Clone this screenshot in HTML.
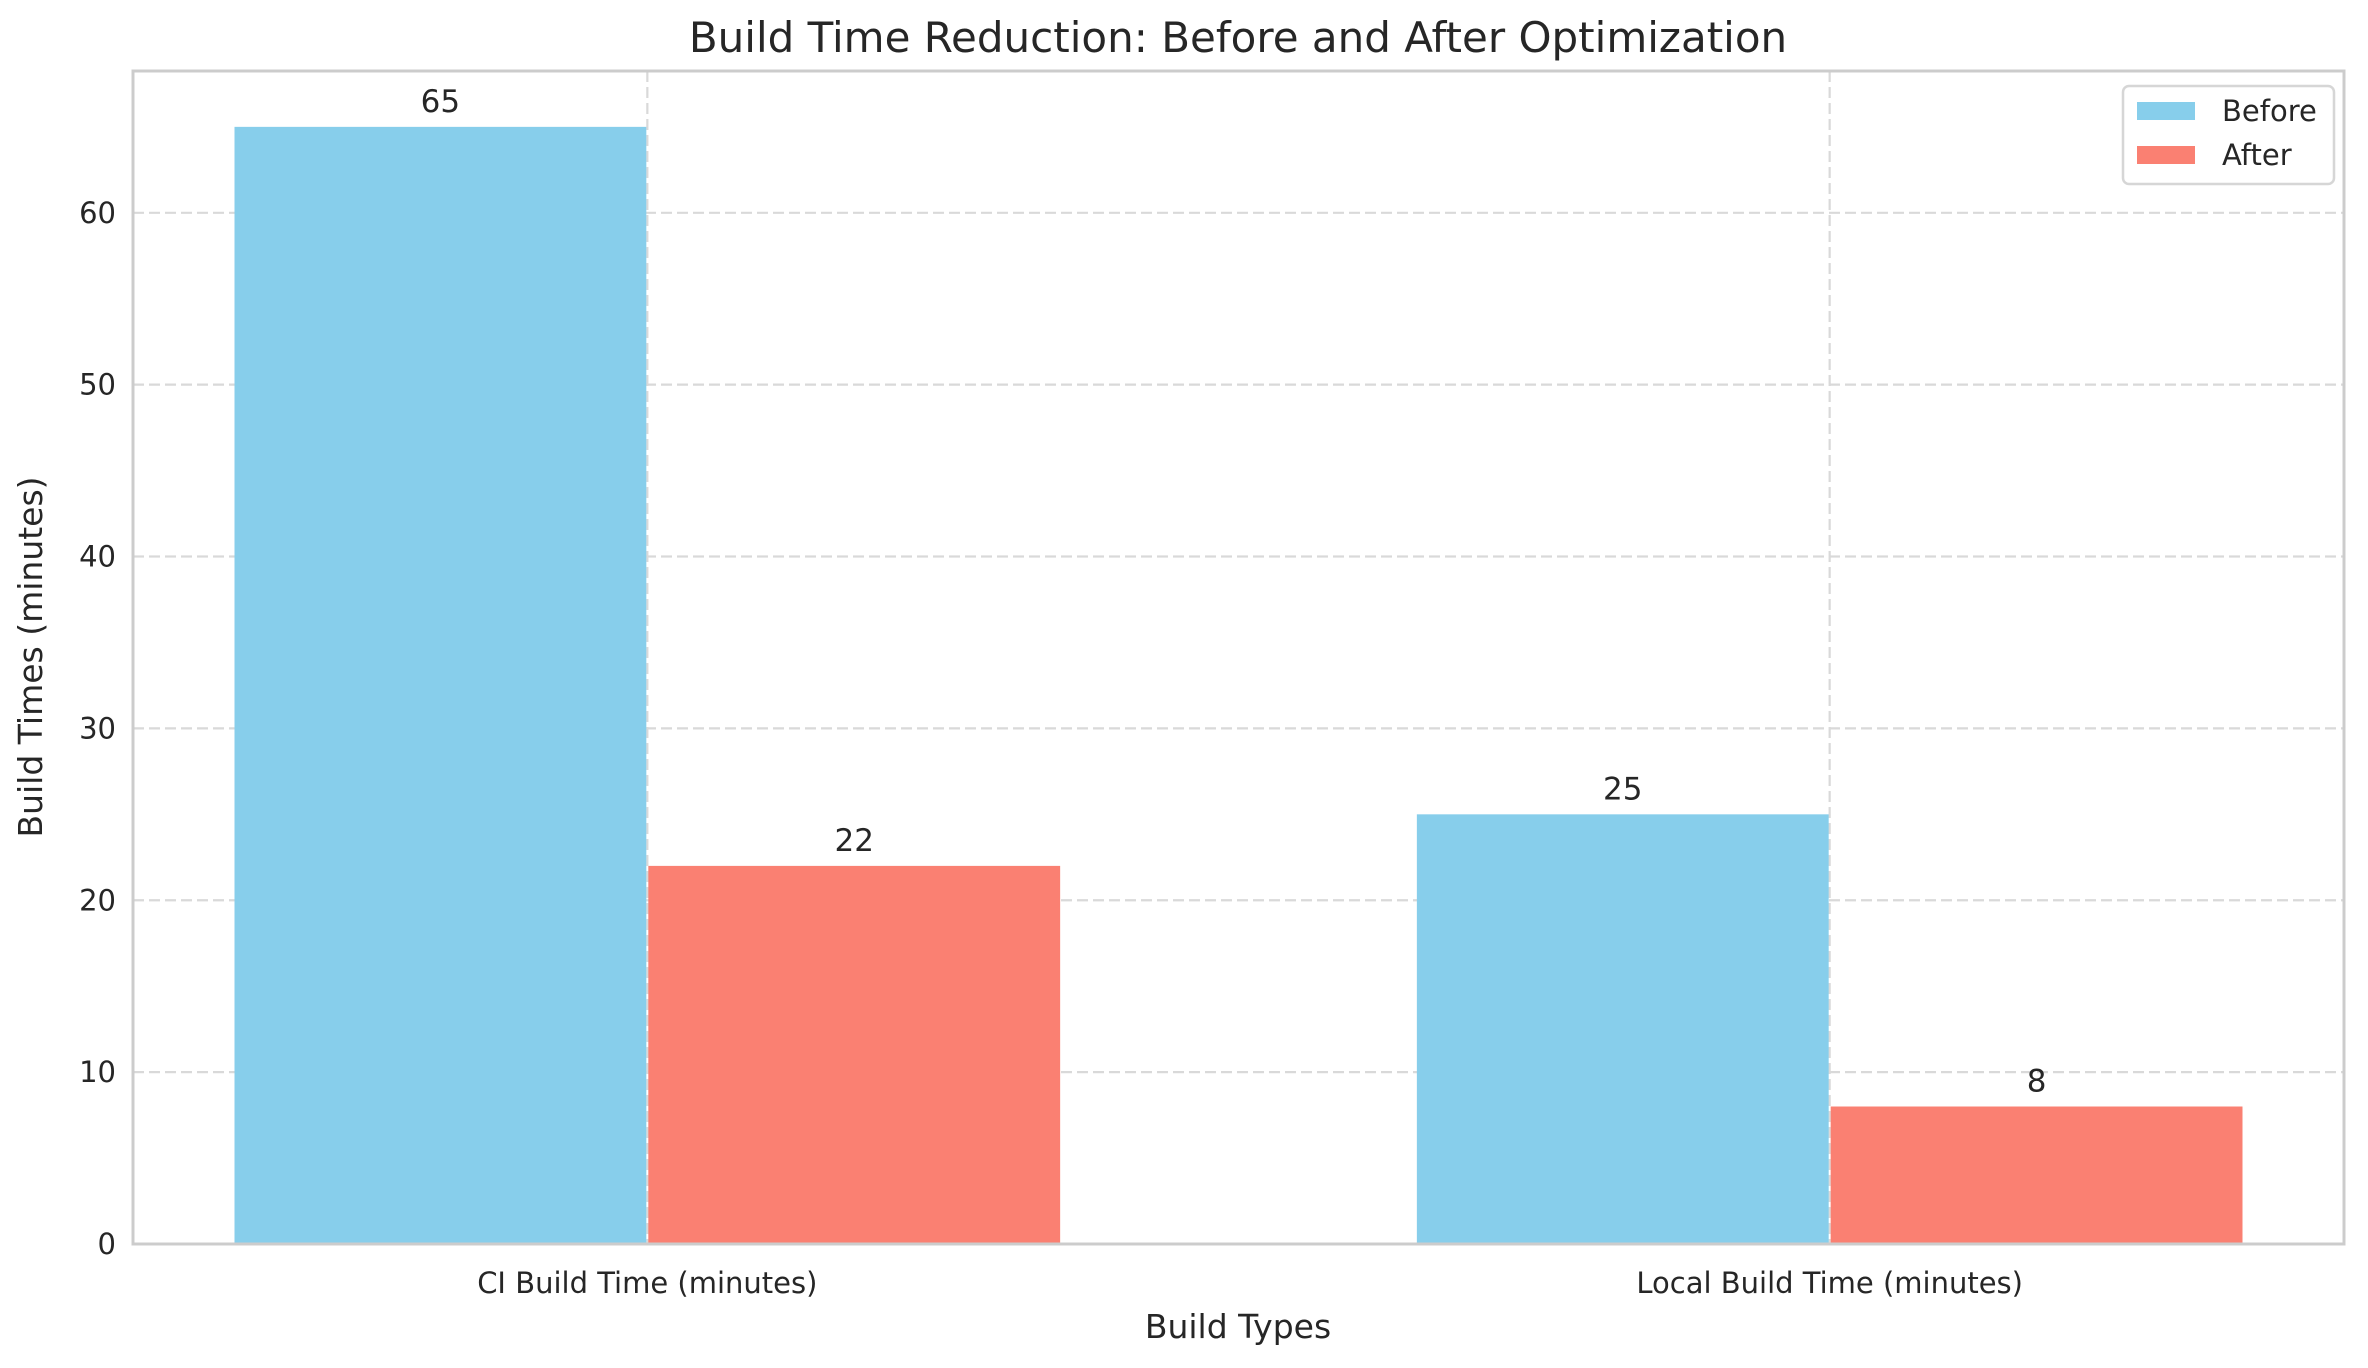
<!DOCTYPE html>
<html><head><meta charset="utf-8"><style>
html,body{margin:0;padding:0;background:#fff;}
svg{display:block;font-family:"DejaVu Sans","Liberation Sans",sans-serif;}
</style></head><body>
<svg id="chart" width="2368" height="1368" viewBox="0 0 2368 1368" xmlns="http://www.w3.org/2000/svg">
<rect x="0" y="0" width="2368" height="1368" fill="#fff"/>
<text x="1238" y="52" font-size="42" fill="#262626" text-anchor="middle">Build Time Reduction: Before and After Optimization</text>
<g id="grid"></g>
<g id="bars"></g>
<g id="labels"></g>
<rect x="133" y="71" width="2211" height="1173" fill="none" stroke="#cccccc" stroke-width="3"/>
<g id="ticks"></g>
<text x="1238" y="1338" font-size="33" fill="#262626" text-anchor="middle">Build Types</text>
<text x="0" y="0" font-size="33" fill="#262626" text-anchor="middle" transform="translate(42,657) rotate(-90)">Build Times (minutes)</text>
<g>
<rect x="2123" y="86" width="211" height="98" rx="6" fill="#fff" fill-opacity="0.85" stroke="#d6d6d6" stroke-width="2.5"/>
<rect x="2137" y="102" width="58" height="18" fill="#87ceeb"/>
<text x="2222" y="121" font-size="29" fill="#262626">Before</text>
<rect x="2137" y="146" width="58" height="18" fill="#fa8072"/>
<text x="2222" y="165" font-size="29" fill="#262626">After</text>
</g>
</svg>
<script>
const categories = ["CI Build Time (minutes)", "Local Build Time (minutes)"];
const beforeValues = [65, 25];
const afterValues = [22, 8];
const yTicks = [0, 10, 20, 30, 40, 50, 60];

const NS = "http://www.w3.org/2000/svg";
const L = 133, R = 2344, T = 71, B = 1244;
const barW = 0.35;
const xMin = -0.5 + 0.5 - barW - 0.085, xMax = categories.length - 1 + barW + 0.085;
const yMax = Math.max(...beforeValues, ...afterValues) * 1.05;
const xs = v => L + (v - xMin) / (xMax - xMin) * (R - L);
const ys = v => B - v / yMax * (B - T);
function mk(tag, attrs, parent) {
  const e = document.createElementNS(NS, tag);
  for (const k in attrs) e.setAttribute(k, attrs[k]);
  parent.appendChild(e);
  return e;
}
const grid = document.getElementById("grid");
const bars = document.getElementById("bars");
const labels = document.getElementById("labels");
const ticks = document.getElementById("ticks");

yTicks.forEach(t => {
  const y = ys(t);
  if (t > 0) {
    const g = mk("line", {x1: L, x2: R, y1: y, y2: y, stroke: "#d9d9d9", "stroke-width": 2.2, "stroke-dasharray": "11,5"}, grid);
    
    
  }
  const tx = mk("text", {x: L - 17, y: y + 10, "font-size": 29, fill: "#262626", "text-anchor": "end"}, ticks);
  tx.textContent = t;
  
  
});

categories.forEach((c, i) => {
  const x = xs(i);
  const g = mk("line", {x1: x, x2: x, y1: T, y2: B, stroke: "#d9d9d9", "stroke-width": 2.2, "stroke-dasharray": "11,5"}, grid);
  
  

  const series = [[beforeValues[i], "#87ceeb", -barW, "before"], [afterValues[i], "#fa8072", 0, "after"]];
  series.forEach(([v, col, off, nm]) => {
    const x0 = xs(i + off), x1 = xs(i + off + barW);
    const b = mk("rect", {x: x0 + 1, y: ys(v), width: x1 - x0 - 2, height: B - ys(v), fill: col}, bars);
    
    
    const lb = mk("text", {x: (x0 + x1) / 2, y: ys(v) - 15, "font-size": 31, fill: "#262626", "text-anchor": "middle"}, labels);
    lb.textContent = v;
    
    
  });

  const tl = mk("text", {x: x, y: 1293, "font-size": 29, fill: "#262626", "text-anchor": "middle"}, ticks);
  tl.textContent = c;
  
  
});
</script>
</body></html>
